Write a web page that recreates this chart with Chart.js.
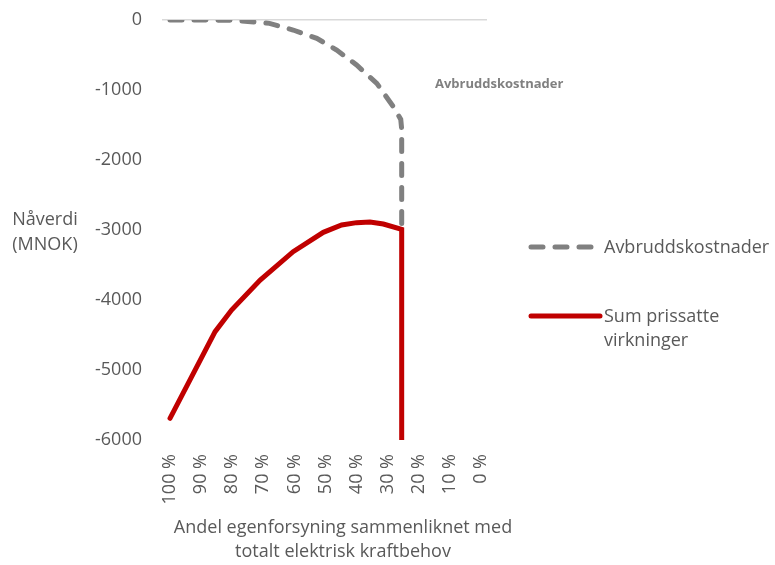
<!DOCTYPE html>
<html>
<head>
<meta charset="utf-8">
<script src="https://cdn.jsdelivr.net/npm/chart.js@4/dist/chart.umd.min.js"></script>
<style>
  html, body { margin: 0; padding: 0; background: #fff; }
  #wrap { width: 775px; height: 565px; position: relative; }
</style>
</head>
<body>
<div id="wrap"><canvas id="chartNpv"></canvas></div>
<script>
// tick labels on the x axis (percent of own supply)
const xTicks = [100, 90, 80, 70, 60, 50, 40, 30, 20, 10, 0]
const yTicks = [0, -1000, -2000, -3000, -4000, -5000, -6000]

// Avbruddskostnader (grey dashed)
const costX = [100, 90, 80, 74, 68, 60.4, 52.8, 46.4, 40, 33.5, 28.2, 25.8, 25.5, 25.5]
const costY = [0, 0, -5, -24, -48, -143, -262, -429, -643, -905, -1238, -1420, -1560, -2990]

// Sum prissatte virkninger (red)
const sumX = [100, 85.5, 80.2, 71, 60.4, 50.7, 44.8, 40, 35.7, 31.4, 25.5, 25.5]
const sumY = [-5690, -4453, -4143, -3714, -3310, -3033, -2929, -2895, -2886, -2914, -2990, -10000]

const seriesNames = ['Avbruddskostnader', 'Sum prissatte virkninger']

const textColor = '#595959'
const font = '"Open Sans", sans-serif'

function toPoints(xs, ys) {
  const pts = []
  for (var i = 0; i < xs.length; i++) {
    pts.push({x: xs[i], y: ys[i]})
  }
  return pts
}

// extra texts: y axis title, x axis title, label in plot and the legend
const extras = {
  id: 'extras',
  afterDraw(chart) {
    const ctx = chart.ctx
    ctx.save()
    ctx.fillStyle = textColor
    ctx.font = '18px ' + font
    ctx.textAlign = 'center'
    ctx.textBaseline = 'middle'
    ctx.fillText('Nåverdi', 45, 220)
    ctx.fillText('(MNOK)', 45, 245)

    ctx.fillText('Andel egenforsyning sammenliknet med', 343, 528)
    ctx.fillText('totalt elektrisk kraftbehov', 343, 552)

    ctx.font = 'bold 13px ' + font
    ctx.fillStyle = '#808080'
    ctx.textAlign = 'left'
    ctx.fillText(seriesNames[0], 435, 84)

    // legend
    const ds = chart.data.datasets
    ctx.lineCap = 'round'
    ctx.lineWidth = 5
    ctx.strokeStyle = ds[0].borderColor
    ctx.setLineDash([12, 12])
    ctx.beginPath()
    ctx.moveTo(531, 247)
    ctx.lineTo(596, 247)
    ctx.stroke()
    ctx.setLineDash([])
    ctx.strokeStyle = ds[1].borderColor
    ctx.beginPath()
    ctx.moveTo(531, 316)
    ctx.lineTo(600, 316)
    ctx.stroke()

    ctx.font = '18px ' + font
    ctx.fillStyle = textColor
    ctx.fillText('Avbruddskostnader', 604, 248)
    ctx.fillText('Sum prissatte', 604, 317)
    ctx.fillText('virkninger', 604, 341)
    ctx.restore()
  }
}

new Chart(document.getElementById('chartNpv'), {
  type: 'scatter',
  data: {
    datasets: [{
      label: seriesNames[0],
      data: toPoints(costX, costY),
      showLine: true,
      borderColor: '#808080',
      borderWidth: 5,
      borderDash: [12, 12],
      borderCapStyle: 'round',
      pointRadius: 0,
      tension: 0
    }, {
      label: seriesNames[1],
      data: toPoints(sumX, sumY),
      showLine: true,
      borderColor: '#c00000',
      borderWidth: 5,
      borderCapStyle: 'round',
      pointRadius: 0,
      tension: 0
    }]
  },
  options: {
    responsive: true,
    maintainAspectRatio: false,
    animation: false,
    layout: {
      padding: {left: 70, right: 288, top: 20, bottom: 0}
    },
    plugins: {
      legend: {display: false},
      tooltip: {enabled: false}
    },
    scales: {
      x: {
        type: 'linear',
        reverse: true,
        min: -1.93,
        max: 102.57,
        afterFit: (s) => {
          s.height = 125
          s.paddingLeft = 0
          s.paddingRight = 0
        },
        afterBuildTicks: (s) => { s.ticks = xTicks.map(v => ({value: v})) },
        grid: {display: false},
        border: {display: false},
        ticks: {
          minRotation: 90,
          maxRotation: 90,
          padding: 6,
          color: textColor,
          font: {family: font, size: 18},
          callback: (v) => v + ' %'
        }
      },
      y: {
        min: -6000,
        max: 0,
        afterFit: (s) => {
          s.width = 92
          s.paddingTop = 0
          s.paddingBottom = 0
        },
        afterBuildTicks: (s) => { s.ticks = yTicks.map(v => ({value: v})) },
        grid: {
          drawTicks: false,
          lineWidth: 1.5,
          color: (c) => c.tick && c.tick.value === 0 ? '#d9d9d9' : 'rgba(0,0,0,0)'
        },
        border: {display: false},
        ticks: {
          padding: 20,
          color: textColor,
          font: {family: font, size: 18},
          callback: (v) => String(v)
        }
      }
    }
  },
  plugins: [extras]
});
</script>
</body>
</html>
